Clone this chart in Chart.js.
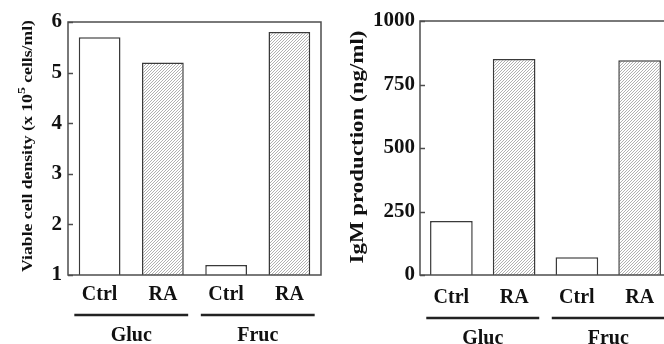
<!DOCTYPE html>
<html>
<head>
<meta charset="utf-8">
<script src="https://cdn.jsdelivr.net/npm/chart.js@4/dist/chart.umd.min.js"></script>
<style>
  html, body { margin: 0; padding: 0; background: #fff; overflow: hidden; width: 664px; height: 344px; }
  .panel { position: absolute; top: 0; height: 344px; }
  #panelL { left: 0; width: 332px; }
  #panelR { left: 332px; width: 350px; }
  canvas { display: block; }
</style>
</head>
<body>
<div class="panel" id="panelL"><canvas id="cellChart" width="332" height="344"></canvas></div>
<div class="panel" id="panelR"><canvas id="igmChart" width="350" height="344"></canvas></div>
<script>
// Treatment per bar, and the sugar each pair of bars was grown on
const categories = ['Ctrl', 'RA', 'Ctrl', 'RA'];
const groups = ['Gluc', 'Fruc'];
const groupMembers = [[0, 1], [2, 3]];

// Viable cell density (x 10^5 cells/ml)
const viableDensity = [5.7, 5.2, 1.2, 5.8];
const densityTicks = [1, 2, 3, 4, 5, 6];

// IgM production (ng/ml)
const igmProduction = [213, 850, 70, 845];
const igmTicks = [0, 250, 500, 750, 1000];

const SERIF = '"Liberation Serif", "Times New Roman", serif';
const INK = '#111';
const LINE = '#4d4d4d';

// Fine diagonal hatching used for the RA bars
function hatchPattern(ctx) {
  const n = 3;
  const tile = document.createElement('canvas');
  tile.width = n; tile.height = n;
  const g = tile.getContext('2d');
  g.fillStyle = '#fff';
  g.fillRect(0, 0, n, n);
  g.strokeStyle = '#a8a8a8';
  g.lineWidth = 0.9;
  g.beginPath();
  g.moveTo(-1, n + 1); g.lineTo(n + 1, -1);
  g.moveTo(-1, 1); g.lineTo(1, -1);
  g.moveTo(n - 1, n + 1); g.lineTo(n + 1, n - 1);
  g.stroke();
  return ctx.createPattern(tile, 'repeat');
}

// Frame, inward ticks, group rules/labels and the rotated axis title
const decorPlugin = {
  id: 'decor',
  afterDraw(chart, args, o) {
    const { ctx, chartArea: a, scales: { x, y } } = chart;
    ctx.save();
    ctx.strokeStyle = LINE;
    ctx.lineWidth = 1.5;
    ctx.strokeRect(a.left, a.top, a.right - a.left, a.bottom - a.top);
    y.ticks.forEach(t => {
      const py = Math.round(y.getPixelForValue(t.value)) + 0.5;
      ctx.beginPath();
      ctx.moveTo(a.left, py);
      ctx.lineTo(a.left + 5, py);
      ctx.stroke();
    });

    const step = x.getPixelForValue(1) - x.getPixelForValue(0);
    ctx.font = 'bold 20px ' + SERIF;
    ctx.textAlign = 'center';
    ctx.textBaseline = 'middle';
    ctx.fillStyle = INK;
    groupMembers.forEach((m, i) => {
      const l = x.getPixelForValue(m[0]) - step * 0.4;
      const r = x.getPixelForValue(m[m.length - 1]) + step * 0.4;
      ctx.strokeStyle = '#222';
      ctx.lineWidth = 2.5;
      ctx.beginPath();
      ctx.moveTo(l, o.ruleY);
      ctx.lineTo(r, o.ruleY);
      ctx.stroke();
      ctx.fillText(groups[i], (l + r) / 2, o.groupY);
    });

    // axis title, written bottom-to-top, with optional superscript runs
    const size = o.titleSize;
    const runs = o.title.map(p => ({
      text: p.text,
      sup: !!p.sup,
      font: 'bold ' + (p.sup ? Math.round(size * 0.8) : size) + 'px ' + SERIF
    }));
    let total = 0;
    runs.forEach(r => { ctx.font = r.font; r.w = ctx.measureText(r.text).width; total += r.w; });
    const stretch = o.titleLength / total;
    ctx.translate(o.titleX, o.titleY);
    ctx.rotate(-Math.PI / 2);
    ctx.scale(stretch, 1);
    ctx.textAlign = 'left';
    ctx.textBaseline = 'middle';
    let cx = -total / 2;
    runs.forEach(r => {
      ctx.font = r.font;
      ctx.fillText(r.text, cx, r.sup ? -size * 0.45 : 0);
      cx += r.w;
    });
    ctx.restore();
  }
};

function makeChart(id, values, ticks, opts) {
  const canvas = document.getElementById(id);
  const ctx = canvas.getContext('2d');
  const hatch = hatchPattern(ctx);
  return new Chart(ctx, {
    type: 'bar',
    data: {
      labels: categories,
      datasets: [{
        data: values,
        backgroundColor: categories.map(c => c === 'RA' ? hatch : '#fff'),
        borderColor: '#3a3a3a',
        borderWidth: 1.5,
        barPercentage: opts.barPct,
        categoryPercentage: 1
      }]
    },
    plugins: [decorPlugin],
    options: {
      responsive: false,
      animation: false,
      devicePixelRatio: 1,
      layout: { padding: { left: 0, top: opts.top, right: opts.right, bottom: 0 } },
      plugins: {
        legend: { display: false },
        tooltip: { enabled: false },
        decor: opts.decor
      },
      scales: {
        x: {
          grid: { display: false, drawTicks: false },
          border: { display: false },
          ticks: {
            color: INK,
            font: { family: SERIF, size: 20, weight: 'bold' },
            padding: opts.xPad,
            maxRotation: 0
          },
          afterFit: s => { s.height = 344 - opts.bottom; }
        },
        y: {
          min: ticks[0],
          max: ticks[ticks.length - 1],
          grid: { display: false, drawTicks: false },
          border: { display: false },
          afterBuildTicks: s => { s.ticks = ticks.map(v => ({ value: v })); },
          ticks: {
            color: INK,
            font: { family: SERIF, size: opts.yFont, weight: 'bold' },
            padding: opts.yPad,
            callback: v => String(v)
          },
          afterFit: s => { s.width = opts.left; }
        }
      }
    }
  });
}

makeChart('cellChart', viableDensity, densityTicks, {
  top: 22, right: 11, left: 68, bottom: 275, barPct: 0.66,
  xPad: 8, yFont: 21, yPad: 6,
  decor: {
    ruleY: 315, groupY: 336,
    title: [{ text: 'Viable cell density (x 10' }, { text: '5', sup: true }, { text: ' cells/ml)' }],
    titleSize: 14, titleLength: 252, titleX: 28, titleY: 146
  }
});

makeChart('igmChart', igmProduction, igmTicks, {
  top: 21, right: 11, left: 88, bottom: 275, barPct: 0.68,
  xPad: 11, yFont: 21, yPad: 5,
  decor: {
    ruleY: 318, groupY: 339,
    title: [{ text: 'IgM production (ng/ml)' }],
    titleSize: 19, titleLength: 233, titleX: 26, titleY: 147
  }
});
</script>
</body>
</html>
